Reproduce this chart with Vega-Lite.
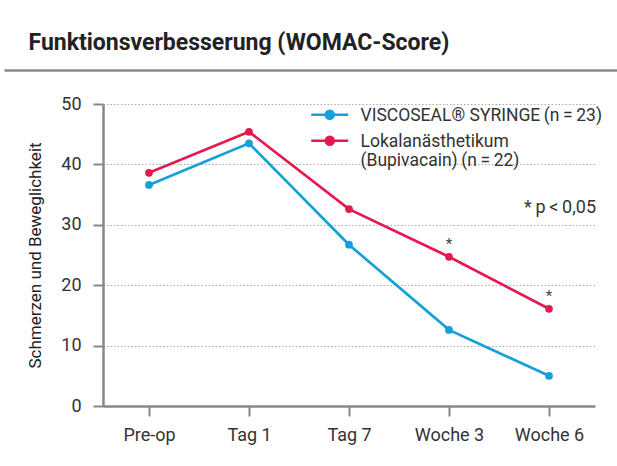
{
  "$schema": "https://vega.github.io/schema/vega-lite/v6.json",
  "width": 492,
  "height": 302,
  "autosize": {"type": "none"},
  "padding": {"left": 103, "top": 104, "right": 22, "bottom": 60},
  "background": "white",
  "config": {"font": "Roboto", "view": {"stroke": null}},
  "datasets": {
    "scores": [
      {"time": "Pre-op", "group": "VISCOSEAL® SYRINGE (n = 23)", "score": 36.6, "sig": ""},
      {"time": "Tag 1", "group": "VISCOSEAL® SYRINGE (n = 23)", "score": 43.5, "sig": ""},
      {"time": "Tag 7", "group": "VISCOSEAL® SYRINGE (n = 23)", "score": 26.7, "sig": ""},
      {"time": "Woche 3", "group": "VISCOSEAL® SYRINGE (n = 23)", "score": 12.6, "sig": ""},
      {"time": "Woche 6", "group": "VISCOSEAL® SYRINGE (n = 23)", "score": 5.0, "sig": ""},
      {"time": "Pre-op", "group": "Lokalanästhetikum (Bupivacain) (n = 22)", "score": 38.6, "sig": ""},
      {"time": "Tag 1", "group": "Lokalanästhetikum (Bupivacain) (n = 22)", "score": 45.4, "sig": ""},
      {"time": "Tag 7", "group": "Lokalanästhetikum (Bupivacain) (n = 22)", "score": 32.6, "sig": ""},
      {"time": "Woche 3", "group": "Lokalanästhetikum (Bupivacain) (n = 22)", "score": 24.7, "sig": "*"},
      {"time": "Woche 6", "group": "Lokalanästhetikum (Bupivacain) (n = 22)", "score": 16.1, "sig": "*"}
    ]
  },
  "layer": [
    {
      "data": {"values": []},
      "mark": {"type": "point", "opacity": 0},
      "encoding": {
        "x": {
          "field": "h",
          "type": "quantitative",
          "scale": {"domain": [0, 1], "range": [-99, 514]},
          "axis": {
            "orient": "top",
            "offset": 34,
            "domainColor": "#8a8a8a",
            "domainWidth": 2.5,
            "ticks": false,
            "labels": false,
            "grid": false,
            "title": "Funktionsverbesserung (WOMAC-Score)",
            "titleFont": "Roboto",
            "titleFontSize": 23,
            "titleFontWeight": "bold",
            "titleColor": "#222222",
            "titleAnchor": "start",
            "titleAlign": "left",
            "titleBaseline": "alphabetic",
            "titleX": -75,
            "titleY": -21
          }
        }
      }
    },
    {
      "layer": [
        {
          "data": {"name": "scores"},
          "mark": {"type": "line", "strokeWidth": 2.7, "point": {"filled": true, "size": 60}},
          "encoding": {
            "x": {
              "field": "time",
              "type": "ordinal",
              "scale": {"type": "point", "padding": 0.46, "domain": ["Pre-op", "Tag 1", "Tag 7", "Woche 3", "Woche 6"]},
              "axis": {
                "title": null,
                "labelAngle": 0,
                "labelFontSize": 18,
                "labelColor": "#333333",
                "labelPadding": 10,
                "tickSize": 10,
                "tickColor": "#888888",
                "tickWidth": 2,
                "domainColor": "#888888",
                "domainWidth": 2.5,
                "grid": false
              }
            },
            "y": {
              "field": "score",
              "type": "quantitative",
              "scale": {"domain": [0, 50]},
              "axis": {
                "values": [0, 10, 20, 30, 40, 50],
                "title": "Schmerzen und Beweglichkeit",
                "titleFontSize": 17,
                "titleFontWeight": "normal",
                "titleColor": "#222222",
                "titlePadding": 16,
                "labelFontSize": 18,
                "labelColor": "#333333",
                "labelPadding": 12,
                "tickSize": 10,
                "tickColor": "#888888",
                "tickWidth": 2,
                "domainColor": "#888888",
                "domainWidth": 2.5,
                "grid": true,
                "gridColor": "#aaaaaa",
                "gridDash": [1.5, 2],
                "gridWidth": 1
              }
            },
            "color": {
              "field": "group",
              "type": "nominal",
              "scale": {
                "domain": ["VISCOSEAL® SYRINGE (n = 23)", "Lokalanästhetikum (Bupivacain) (n = 22)"],
                "range": ["#14a0d8", "#e6194f"]
              },
              "legend": {
                "title": null,
                "orient": "none",
                "legendX": 218,
                "legendY": 2,
                "padding": 0,
                "symbolType": "M-3.7,0L3.7,0M-0.8,0A0.8,0.8 0 1,0 0.8,0A0.8,0.8 0 1,0 -0.8,0Z",
                "symbolSize": 100,
                "symbolStrokeWidth": 2.5,
                "labelFontSize": 17.5,
                "labelColor": "#333333",
                "labelOffset": 22,
                "labelLimit": 400,
                "labelBaseline": "alphabetic",
                "rowPadding": 6,
                "labelExpr": "datum.value == 'Lokalanästhetikum (Bupivacain) (n = 22)' ? ['Lokalanästhetikum', '(Bupivacain)\u2009(n\u2009=\u200922)'] : 'VISCOSEAL® SYRINGE\u2009(n\u2009=\u200923)'",
                "encode": {
                  "symbols": {
                    "update": {
                      "fill": {"scale": "color", "field": "value"},
                      "stroke": {"scale": "color", "field": "value"},
                      "strokeWidth": {"value": 2.5}
                    }
                  },
                  "labels": {"update": {"dy": {"value": 6}}}
                }
              }
            }
          }
        },
        {
          "data": {"name": "scores"},
          "transform": [{"filter": "datum.sig == '*'"}],
          "mark": {"type": "text", "fontSize": 15, "color": "#444444", "baseline": "middle", "dy": -13},
          "encoding": {
            "x": {"field": "time", "type": "ordinal"},
            "y": {"field": "score", "type": "quantitative"},
            "text": {"field": "sig"}
          }
        },
        {
          "data": {"values": [{"note": "*\u2009p\u2009<\u20090,05"}]},
          "mark": {"type": "text", "fontSize": 18, "color": "#333333", "align": "right", "baseline": "middle", "dx": 47},
          "encoding": {
            "x": {"datum": "Woche 6"},
            "y": {"datum": 32.8},
            "text": {"field": "note"}
          }
        }
      ]
    }
  ],
  "resolve": {"scale": {"x": "independent"}, "axis": {"x": "independent"}}
}
